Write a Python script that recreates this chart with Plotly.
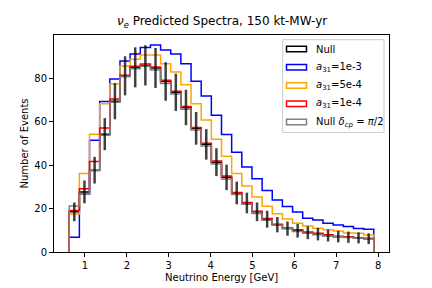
import numpy as np
import plotly.graph_objects as go

# ---- data ----
bin_edges = np.linspace(0.625, 7.895, 31)
null = [18.5, 27.7, 37.7, 54.3, 69.5, 81.2, 85.1, 86.0, 84.8, 78.6, 73.6, 66.6, 57.0, 49.6, 41.4,
        34.4, 27.2, 22.6, 18.5, 15.1, 12.6, 10.8, 9.8, 8.9, 8.2, 7.6, 7.1, 6.8, 6.5, 6.1]
null_err = [4.30, 5.26, 6.14, 7.37, 8.34, 9.01, 9.22, 9.27, 9.21, 8.87, 8.58, 8.16, 7.55, 7.04, 6.43,
            5.87, 5.22, 4.75, 4.30, 3.89, 3.55, 3.29, 3.13, 2.98, 2.86, 2.76, 2.66, 2.61, 2.55, 2.47]
a31_1e3 = [6.8, 26.6, 51.5, 69.4, 79.7, 88.0, 91.3, 94.2, 95.4, 93.1, 91.2, 86.7, 78.7, 71.9, 63.0,
           54.2, 46.0, 39.2, 33.7, 28.3, 24.0, 21.0, 18.4, 15.5, 14.8, 13.2, 12.5, 11.7, 10.8, 10.5]
a31_5e4 = [17.5, 36.2, 54.3, 68.3, 77.4, 85.7, 88.8, 90.8, 90.8, 86.7, 82.9, 77.1, 68.3, 60.8, 52.0,
           44.1, 36.2, 30.4, 25.3, 21.1, 17.6, 15.2, 13.2, 12.0, 10.9, 10.2, 9.7, 8.8, 8.6, 7.8]
a31_1e4 = [19.1, 29.1, 41.7, 57.1, 70.5, 81.4, 85.6, 86.6, 85.2, 79.1, 74.1, 67.1, 57.4, 50.1, 41.9,
           35.0, 27.4, 22.8, 18.8, 15.4, 12.8, 11.1, 10.2, 9.2, 8.6, 8.0, 7.2, 7.0, 6.6, 6.3]
null_dcp = [21.2, 26.6, 37.4, 53.8, 69.0, 80.8, 84.4, 85.6, 83.9, 77.7, 72.8, 65.8, 56.2, 48.8, 40.5,
            33.6, 26.5, 22.0, 17.7, 14.6, 12.3, 10.8, 9.4, 8.6, 8.0, 7.4, 7.0, 6.7, 6.3, 6.0]

series = [
    ("Null", null, "black"),
    ("<i>a</i><sub>31</sub>=1e-3", a31_1e3, "blue"),
    ("<i>a</i><sub>31</sub>=5e-4", a31_5e4, "orange"),
    ("<i>a</i><sub>31</sub>=1e-4", a31_1e4, "red"),
    ("Null <i>δ<sub>cp</sub></i> = <i>π</i>/2", null_dcp, "gray"),
]

centers = (bin_edges[:-1] + bin_edges[1:]) / 2


def step_xy(vals):
    xs = [bin_edges[0]] + list(bin_edges[:-1]) + [bin_edges[-1], bin_edges[-1]]
    ys = [0] + list(vals) + [vals[-1], 0]
    return xs, ys


fig = go.Figure()
for name, vals, col in series:
    xs, ys = step_xy(vals)
    fig.add_trace(go.Scatter(x=xs, y=ys, mode="lines", line=dict(color=col, width=1.5, shape="hv"),
                             name=name, showlegend=False, hoverinfo="skip"))

fig.add_trace(go.Scatter(x=centers, y=null, mode="markers", marker=dict(size=1, opacity=0),
                         error_y=dict(type="data", array=null_err, color="rgba(0,0,0,0.75)",
                                      thickness=2.5, width=0),
                         showlegend=False, hoverinfo="skip"))

# ---- manual legend (matplotlib style) ----
L, R, T, B = 54, 389, 35.3, 252
W, H = R - L, B - T
def px(x):
    return (x - L) / W
def py(y):
    return (B - y) / H

shapes = [dict(type="rect", xref="paper", yref="paper", x0=px(282.7), x1=px(384), y0=py(132.7), y1=py(40),
               line=dict(color="#cccccc", width=1), fillcolor="rgba(255,255,255,0.8)", layer="above")]
annotations = []
rows = [49.3, 67.5, 85.7, 104.0, 122.2]
for (name, vals, col), ry in zip(series, rows):
    shapes.append(dict(type="rect", xref="paper", yref="paper", x0=px(286.5), x1=px(306.5),
                       y0=py(ry + 2.8), y1=py(ry - 2.8), line=dict(color=col, width=1.5),
                       fillcolor="rgba(0,0,0,0)", layer="above"))
    annotations.append(dict(xref="paper", yref="paper", x=px(314), y=py(ry), text=name, showarrow=False,
                            xanchor="left", yanchor="middle", font=dict(size=10, color="black")))

annotations.append(dict(xref="paper", yref="paper", x=0.5, y=py(277), text="Neutrino Energy [GeV]",
                        showarrow=False, xanchor="center", yanchor="middle", font=dict(size=10, color="black")))
annotations.append(dict(xref="paper", yref="paper", x=px(24), y=0.5, text="Number of Events", textangle=-90,
                        showarrow=False, xanchor="center", yanchor="middle", font=dict(size=10, color="black")))
annotations.append(dict(xref="paper", yref="paper", x=px(221.5), y=py(22), showarrow=False,
                        text="<i>ν<sub>e</sub></i> Predicted Spectra, 150 kt-MW-yr",
                        xanchor="center", yanchor="middle", font=dict(size=12, color="black")))

fig.update_layout(
    width=432, height=288,
    margin=dict(l=L, r=432 - R, t=T, b=288 - B, pad=0),
    paper_bgcolor="white", plot_bgcolor="white",
    font=dict(family="DejaVu Sans", size=10, color="black"),
    shapes=shapes, annotations=annotations, showlegend=False, hovermode=False,
)
fig.update_xaxes(range=[0.2615, 8.2585], tickvals=[1, 2, 3, 4, 5, 6, 7, 8], showgrid=False, zeroline=False,
                 showline=True, mirror=True, linecolor="black", linewidth=1, ticks="outside", ticklen=4,
                 tickcolor="black", tickwidth=1)
fig.update_yaxes(range=[0, 100], tickvals=[0, 20, 40, 60, 80], showgrid=False, zeroline=False,
                 showline=True, mirror=True, linecolor="black", linewidth=1, ticks="outside", ticklen=4,
                 tickcolor="black", tickwidth=1)

fig.write_html("out.html", config={"displayModeBar": False},
               post_script="document.body.style.margin='0';document.body.style.padding='0';")
